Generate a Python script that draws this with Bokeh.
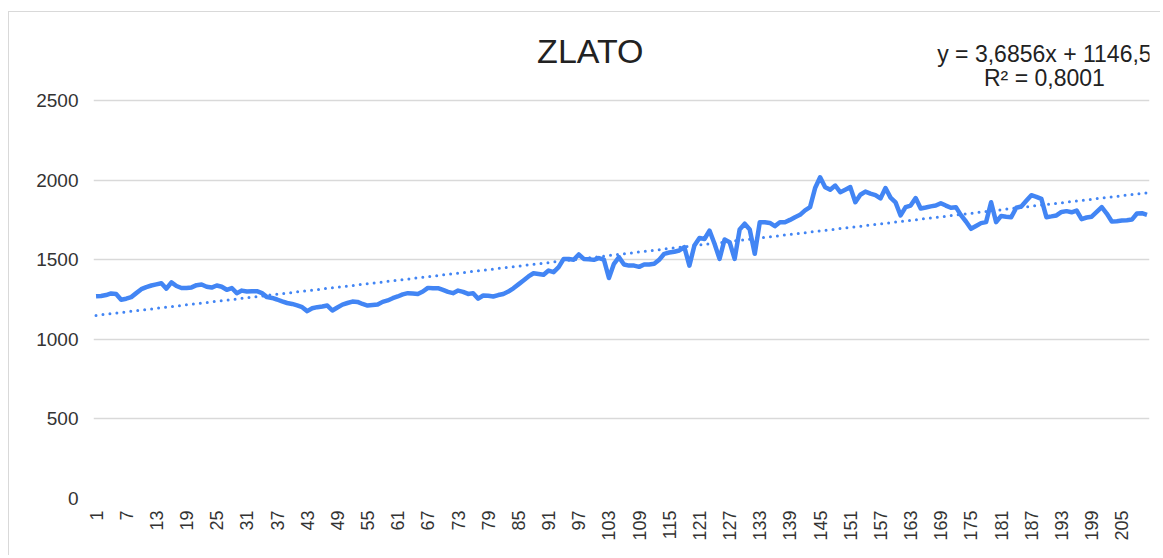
from bokeh.plotting import figure
from bokeh.models import FixedTicker, Label, Range1d
from bokeh.embed import file_html
from bokeh.resources import INLINE

title_text = "ZLATO"
eq_line1 = "y = 3,6856x + 1146,5"
eq_line2 = "R² = 0,8001"
trend_slope = 3.6856
trend_intercept = 1146.5

prices = [
    1270, 1272, 1278, 1288, 1285, 1248, 1255, 1265, 1290, 1315,
    1328, 1338, 1345, 1352, 1318, 1358, 1335, 1322, 1322, 1326,
    1340, 1344, 1330, 1325, 1338, 1330, 1311, 1322, 1290, 1306,
    1300, 1302, 1302, 1290, 1265, 1260, 1250, 1238, 1228, 1222,
    1213, 1202, 1177, 1195, 1202, 1206, 1212, 1181, 1200, 1218,
    1228, 1237, 1235, 1222, 1212, 1215, 1218, 1235, 1244, 1258,
    1269, 1282, 1290, 1288, 1285, 1300, 1323, 1320, 1321, 1310,
    1298, 1290, 1306, 1298, 1285, 1290, 1255, 1275, 1274, 1269,
    1278, 1285, 1300, 1320, 1345, 1370, 1395, 1415, 1410, 1405,
    1432, 1422, 1453, 1505, 1505, 1500, 1533, 1505, 1503, 1499,
    1510, 1500, 1385, 1474, 1516, 1470, 1463, 1463, 1455, 1470,
    1470, 1474, 1500, 1537, 1545, 1550, 1558, 1579, 1463, 1589,
    1637, 1630, 1683, 1600, 1505, 1627, 1610, 1505, 1690, 1726,
    1690, 1537, 1736, 1735, 1731, 1711, 1735, 1735, 1750, 1767,
    1782, 1810, 1830, 1950, 2018, 1955, 1940, 1966, 1924, 1940,
    1956, 1861, 1908, 1928, 1915, 1906, 1885, 1950, 1890, 1860,
    1778, 1830, 1840, 1887, 1822, 1828, 1835, 1840, 1855, 1840,
    1826, 1830, 1780, 1740, 1694, 1712, 1730, 1736, 1861, 1736,
    1775, 1770, 1767, 1826, 1834, 1870, 1905, 1895, 1882, 1767,
    1772, 1778, 1800, 1805, 1798, 1809, 1755, 1765, 1770, 1800,
    1830, 1790, 1740, 1742, 1746, 1748, 1752, 1790, 1792, 1782,
]
x_idx = list(range(1, len(prices) + 1))
x_tick_values = list(range(1, len(prices) + 1, 6))
y_tick_values = [0, 500, 1000, 1500, 2000, 2500]

trend_x = [x_idx[0], x_idx[-1]]
trend_y = [trend_slope * v + trend_intercept for v in trend_x]

FONT = "Liberation Sans"
BLUE = "#4285F4"

# frame extends above 2500 so the title and equation sit inside it
p = figure(width=1152, height=544, output_backend="svg", toolbar_location=None, title=None,
           x_range=Range1d(0.5, len(prices) + 0.5), y_range=Range1d(0, 3052.8))
p.min_border_left = 84
p.min_border_right = 12
p.min_border_top = 0
p.min_border_bottom = 58
p.outline_line_color = None
p.background_fill_color = "white"
p.border_fill_color = "white"
p.styles = {"margin-left": "8px", "margin-top": "11px",
            "border-left": "1px solid #d9d9d9", "border-top": "1px solid #d9d9d9"}

p.xgrid.grid_line_color = None
p.ygrid.grid_line_color = "#d9d9d9"
p.ygrid.grid_line_width = 1.5
p.yaxis.ticker = FixedTicker(ticks=y_tick_values)
p.xaxis.ticker = FixedTicker(ticks=x_tick_values)
p.xaxis.major_label_orientation = 1.5708

for ax in (p.xaxis, p.yaxis):
    ax.axis_line_color = None
    ax.major_tick_line_color = None
    ax.minor_tick_line_color = None
    ax.major_label_text_font = FONT
    ax.major_label_text_color = "#333333"
p.yaxis.major_label_text_font_size = "19px"
p.xaxis.major_label_text_font_size = "18px"
p.yaxis.major_label_standoff = 9
p.xaxis.major_label_standoff = 6

p.line(trend_x, trend_y, line_color=BLUE, line_width=3, line_dash="0 7", line_cap="round")
p.line(x_idx, prices, line_color=BLUE, line_width=4.5, line_join="round")

p.add_layout(Label(x=99.3, y=2814, text=title_text, text_align="center", text_baseline="middle",
                   text_font=FONT, text_font_size="34px", text_color="#222222"))
p.add_layout(Label(x=189.6, y=2790, text=eq_line1, text_align="center", text_baseline="middle",
                   text_font=FONT, text_font_size="23px", text_color="#222222"))
p.add_layout(Label(x=189.6, y=2643, text=eq_line2, text_align="center", text_baseline="middle",
                   text_font=FONT, text_font_size="23px", text_color="#222222"))

open("out.html", "w").write(file_html(p, INLINE))
